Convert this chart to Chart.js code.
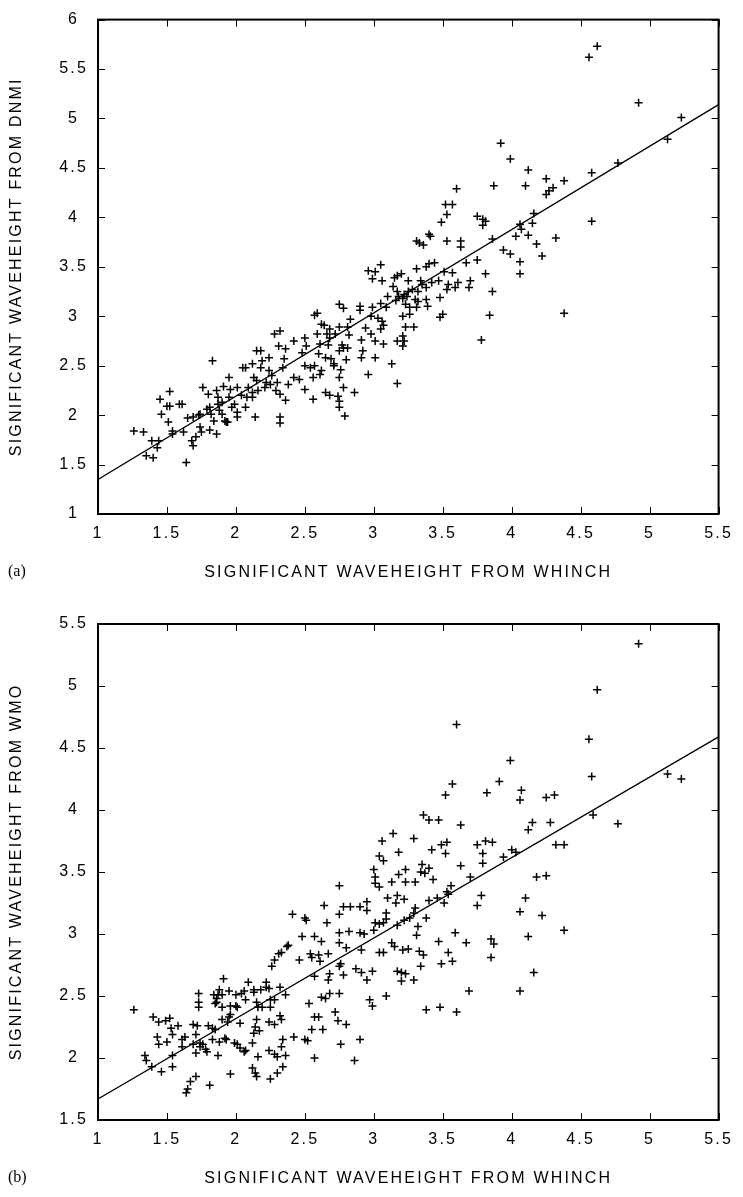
<!DOCTYPE html>
<html>
<head>
<meta charset="utf-8">
<title>Significant waveheight comparison</title>
<script src="https://cdn.jsdelivr.net/npm/chart.js@4.4.1/dist/chart.umd.min.js"></script>
<style>
  body { margin: 0; background: #fff; }
  canvas { display: block; }
</style>
</head>
<body>
<canvas id="panelA" width="743" height="600"></canvas>
<canvas id="panelB" width="743" height="597"></canvas>
<script>
// axis ticks and titles
const xTicks = [1, 1.5, 2, 2.5, 3, 3.5, 4, 4.5, 5, 5.5];
const yTicksA = [1, 1.5, 2, 2.5, 3, 3.5, 4, 4.5, 5, 5.5, 6];
const yTicksB = [1.5, 2, 2.5, 3, 3.5, 4, 4.5, 5, 5.5];
const xTitle = 'SIGNIFICANT WAVEHEIGHT FROM WHINCH';
const yTitleA = 'SIGNIFICANT WAVEHEIGHT FROM DNMI';
const yTitleB = 'SIGNIFICANT WAVEHEIGHT FROM WMO';

// (a) WHINCH vs DNMI, [whinch, dnmi]
const dnmiPoints = [
  [1.26,1.84],[1.33,1.83],[1.35,1.59],[1.40,1.57],[1.39,1.74],[1.44,1.74],[1.43,1.67],[1.45,2.16],
  [1.52,2.24],[1.50,2.09],[1.52,2.09],[1.59,2.11],[1.61,2.11],[1.46,2.01],[1.51,1.93],[1.54,1.84],
  [1.54,1.81],[1.62,1.83],[1.64,1.52],[1.65,1.97],[1.68,1.74],[1.69,1.69],[1.71,1.78],[1.69,1.98],
  [1.73,2.00],[1.74,2.01],[1.74,1.88],[1.75,1.83],[1.76,2.28],[1.80,2.21],[1.79,2.06],[1.81,2.08],
  [1.82,2.01],[1.81,1.85],[1.83,2.55],[1.86,1.81],[1.84,1.94],[1.86,2.25],[1.87,2.18],[1.87,2.11],
  [1.88,2.05],[1.90,2.13],[1.90,2.01],[1.91,2.29],[1.92,1.94],[1.93,1.93],[1.94,1.93],[1.95,2.38],
  [1.96,2.26],[1.95,2.18],[1.97,2.08],[1.99,2.11],[2.01,2.28],[2.01,2.03],[2.01,1.98],[2.04,2.20],
  [2.05,2.48],[2.07,2.48],[2.07,2.08],[2.08,2.18],[2.09,2.28],[2.12,2.52],[2.12,2.23],[2.12,2.18],
  [2.13,2.38],[2.14,1.98],[2.15,2.35],[2.15,2.65],[2.16,2.25],[2.18,2.65],[2.18,2.48],[2.19,2.55],
  [2.21,2.28],[2.22,2.33],[2.24,2.58],[2.24,2.45],[2.25,2.31],[2.26,2.40],[2.28,2.82],[2.29,2.25],
  [2.30,2.33],[2.32,2.85],[2.31,2.70],[2.32,2.21],[2.32,1.98],[2.32,1.92],[2.34,2.48],[2.35,2.57],
  [2.36,2.67],[2.36,2.15],[2.38,2.31],[2.42,2.75],[2.42,2.38],[2.46,2.36],[2.48,2.63],[2.50,2.26],
  [2.50,2.78],[2.51,2.70],[2.50,2.50],[2.54,2.48],
  [3.60,4.29],[3.87,4.32],[3.52,4.13],[3.57,4.13],[3.53,4.03],[3.49,3.95],[3.75,4.01],[3.79,3.98],
  [3.81,3.96],[3.79,3.92],[3.40,3.83],[3.41,3.81],[3.31,3.76],[3.33,3.74],[3.36,3.72],[3.53,3.76],
  [3.63,3.76],[3.63,3.70],[3.86,3.78],[3.94,3.67],[3.99,3.63],[3.05,3.52],[2.96,3.46],[3.01,3.45],
  [2.99,3.38],[3.06,3.36],[3.31,3.48],[3.38,3.50],[3.40,3.53],[3.44,3.54],[3.67,3.54],[3.75,3.57],
  [3.81,3.43],[3.57,3.44],[3.51,3.45],[3.15,3.39],[3.20,3.43],[3.17,3.41],[3.25,3.36],[3.34,3.36],
  [3.35,3.32],[3.42,3.34],[3.47,3.36],[3.54,3.32],[3.61,3.34],[3.70,3.36],[3.69,3.29],[3.59,3.29],
  [3.53,3.27],[3.14,3.30],[3.17,3.25],[3.10,3.20],[3.18,3.20],[3.22,3.22],[3.25,3.25],[3.28,3.27],
  [3.32,3.25],[3.38,3.29],[3.16,3.16],[3.21,3.18],[3.24,3.20],[3.30,3.17],[3.32,3.15],[3.38,3.17],
  [3.48,3.19],[3.86,3.25],[3.05,3.13],[3.09,3.09],[3.23,3.12],[3.26,3.09],[3.31,3.09],[3.39,3.10],
  [2.99,3.09],[2.90,3.06],[2.90,3.10],[2.75,3.12],[2.78,3.08],[2.59,3.03],[2.57,3.01],[2.62,2.92],
  [2.64,2.91],[2.68,2.87],[2.75,2.89],[2.81,2.89],[2.83,2.97],[2.94,2.88],[2.98,3.00],[3.03,2.98],
  [3.06,2.95],[3.07,2.91],[3.05,2.87],[3.21,3.00],[3.26,3.02],[3.23,2.89],[3.29,2.89],[3.48,2.99],
  [3.50,3.02],[3.84,3.01],[2.59,2.82],[2.66,2.82],[2.68,2.78],[2.72,2.82],[2.82,2.81],[2.91,2.76],
  [2.98,2.82],[3.01,2.75],[3.07,2.72],[3.17,2.75],[3.21,2.80],[3.22,2.75],[3.21,2.70],[3.78,2.76],
  [2.61,2.72],[2.67,2.71],[2.77,2.71],[2.78,2.68],[2.60,2.62],[2.65,2.58],[2.69,2.57],[2.75,2.65],
  [2.81,2.68],[2.92,2.65],[2.91,2.58],[2.80,2.56],[3.01,2.58],[3.13,2.52],[2.57,2.50],[2.62,2.45],
  [2.71,2.52],[2.71,2.50],[2.76,2.46],[2.96,2.41],[3.17,2.32],[2.56,2.38],[2.61,2.41],[2.75,2.38],
  [2.78,2.28],[2.86,2.23],[2.65,2.23],[2.68,2.20],[2.74,2.19],[2.56,2.16],[2.75,2.14],[2.75,2.08],
  [2.79,1.99],
  [4.62,5.73],[4.56,5.62],[4.92,5.16],[5.23,5.01],[5.13,4.79],[3.92,4.75],[3.99,4.59],[4.12,4.48],
  [4.77,4.55],[4.58,4.45],[4.25,4.39],[4.38,4.37],[4.10,4.32],[4.30,4.30],[4.27,4.27],[4.25,4.23],
  [4.16,4.04],[4.06,3.93],[4.07,3.88],[4.15,3.94],[4.03,3.81],[4.12,3.82],[4.32,3.79],[4.58,3.96],
  [4.18,3.73],[4.22,3.61],[4.06,3.55],[4.06,3.43],[4.38,3.03]
];

// (b) WHINCH vs WMO, [whinch, wmo]
const wmoPoints = [
  [1.26,2.39],[1.34,2.02],[1.35,1.98],[1.39,1.93],[1.46,1.89],[1.40,2.33],[1.44,2.29],[1.49,2.30],
  [1.52,2.32],[1.53,2.24],[1.58,2.26],[1.54,2.19],[1.43,2.17],[1.44,2.11],[1.50,2.13],[1.54,2.02],
  [1.54,1.93],[1.61,2.15],[1.63,2.17],[1.61,2.09],[1.69,2.27],[1.72,2.26],[1.71,2.19],[1.69,2.11],
  [1.71,2.04],[1.74,2.12],[1.74,2.09],[1.76,2.11],[1.78,2.07],[1.80,2.26],[1.83,2.24],[1.85,2.23],
  [1.79,2.05],[1.87,2.02],[1.83,2.15],[1.88,2.13],[1.92,2.16],[1.93,2.15],[1.90,2.31],[1.94,2.29],
  [1.95,2.33],[1.96,2.35],[1.90,2.41],[1.91,2.64],[1.73,2.52],[1.73,2.45],[1.73,2.41],[1.84,2.51],
  [1.86,2.48],[1.86,2.45],[1.87,2.51],[1.88,2.55],[1.90,2.51],[1.85,2.44],[1.95,2.54],[1.96,2.42],
  [2.00,2.51],[2.00,2.42],[2.01,2.41],[2.04,2.52],[2.06,2.54],[2.07,2.47],[2.09,2.61],[2.13,2.55],
  [2.13,2.53],[2.18,2.55],[2.15,2.45],[2.16,2.41],[2.19,2.41],[2.22,2.61],[2.22,2.57],[2.24,2.56],
  [2.25,2.41],[2.25,2.47],[2.28,2.47],[2.32,2.57],[2.36,2.51],[2.03,2.28],[2.15,2.31],[2.14,2.25],
  [2.17,2.22],[2.13,2.20],[2.12,2.12],[2.07,2.06],[2.06,2.05],[2.01,2.11],[2.03,2.08],[1.99,2.12],
  [2.24,2.29],[2.28,2.27],[2.32,2.34],[2.33,2.31],[2.34,2.15],[2.33,2.09],[2.42,2.17],[2.50,2.15],
  [2.52,2.14],[2.16,2.01],[2.24,2.06],[2.28,2.03],[2.30,2.01],[2.36,2.02],[2.30,1.88],[2.34,1.93],
  [2.12,1.92],[2.14,1.88],[2.15,1.85],[2.25,1.83],[1.96,1.87],[1.65,1.75],[1.64,1.72],[1.67,1.81],
  [1.71,1.85],[1.81,1.78],[2.26,2.74],[2.28,2.79],[2.31,2.84],[2.33,2.85],[2.37,2.90],[2.38,2.91],
  [2.41,3.16],[2.50,3.13],[2.51,3.11],[2.48,2.98],[2.57,2.98],[2.62,2.94],[2.64,3.23],[2.66,3.09],
  [2.46,2.79],[2.54,2.84],[2.55,2.81],[2.60,2.83],[2.61,2.78],[2.67,2.84],[2.57,2.66],[2.62,2.49],
  [2.65,2.48],[2.67,2.63],[2.68,2.68],[2.53,2.44],[2.57,2.33],[2.60,2.33],[2.55,2.23],[2.63,2.23],
  [2.57,2.00],[2.68,2.52],
  [3.57,4.21],[3.52,4.12],[3.91,4.23],[3.82,4.14],[4.07,4.16],[4.06,4.08],[3.36,3.96],[3.40,3.92],
  [3.47,3.92],[3.63,3.88],[4.15,3.90],[4.12,3.84],[3.14,3.81],[3.06,3.75],[3.29,3.77],[3.18,3.66],
  [3.42,3.68],[3.49,3.72],[3.53,3.74],[3.52,3.65],[3.75,3.72],[3.81,3.75],[3.86,3.74],[3.79,3.65],
  [4.00,3.68],[4.03,3.66],[3.94,3.62],[3.04,3.63],[3.07,3.59],[3.79,3.57],[3.63,3.55],[3.35,3.56],
  [3.40,3.53],[3.34,3.50],[3.37,3.49],[3.23,3.52],[3.18,3.48],[3.00,3.52],[3.01,3.46],[3.01,3.41],
  [3.04,3.38],[3.13,3.42],[3.23,3.42],[3.30,3.42],[3.43,3.44],[3.70,3.46],[2.75,3.39],[3.56,3.39],
  [3.53,3.34],[3.54,3.32],[3.46,3.29],[3.51,3.25],[3.40,3.27],[3.78,3.31],[3.75,3.23],[4.10,3.29],
  [4.06,3.18],[3.10,3.29],[3.17,3.31],[3.16,3.25],[3.22,3.28],[2.95,3.26],[2.95,3.19],[2.90,3.22],
  [2.83,3.22],[2.78,3.22],[2.75,3.16],[3.30,3.21],[3.29,3.17],[3.26,3.13],[3.22,3.11],[3.09,3.17],
  [3.09,3.12],[3.07,3.09],[3.04,3.08],[3.01,3.09],[3.00,3.03],[2.93,3.00],[2.90,3.01],[2.82,3.02],
  [2.75,3.01],[3.17,3.07],[3.38,3.13],[3.32,3.06],[3.31,2.99],[3.59,3.01],[3.47,2.94],[3.67,2.93],
  [3.85,2.96],[3.87,2.92],[4.12,2.98],[2.75,2.93],[2.80,2.89],[2.91,2.87],[3.04,2.85],[3.07,2.85],
  [3.13,2.93],[3.15,2.90],[3.21,2.87],[3.25,2.88],[3.33,2.86],[3.36,2.83],[3.54,2.85],[3.57,2.78],
  [3.49,2.76],[3.34,2.74],[3.85,2.81],[2.76,2.76],[2.75,2.74],[2.78,2.67],[2.87,2.72],[2.91,2.69],
  [2.99,2.70],[2.95,2.63],[3.17,2.70],[3.20,2.69],[3.23,2.68],[3.20,2.62],[3.29,2.63],[3.09,2.50],
  [2.97,2.47],[2.99,2.42],[2.75,2.52],[2.72,2.37],[2.74,2.30],[2.80,2.27],[2.76,2.11],[2.90,2.15],
  [2.86,1.98],[3.38,2.39],[3.48,2.41],[3.60,2.37],[3.69,2.54],[4.06,2.54],[4.16,2.69],
  [4.92,5.34],[4.62,4.97],[4.56,4.57],[3.99,4.40],[4.58,4.27],[5.13,4.29],[5.23,4.25],[4.25,4.10],
  [4.31,4.12],[4.59,3.96],[4.77,3.89],[4.28,3.90],[4.32,3.72],[4.38,3.72],[4.18,3.46],[4.25,3.47],
  [4.22,3.15],[4.38,3.03],[3.60,4.69]
];

// fitted regression lines, end points
const fitA = [[1, 1.35], [5.5, 5.14]];
const fitB = [[1, 1.67], [5.5, 4.59]];

const FONT = "'Liberation Sans', Arial, Helvetica, sans-serif";
const SPACING = '2.2px';

// the original lettering is wider than Arial, so space it out a little
const letterSpacing = {
  id: 'letterSpacing',
  beforeLayout(chart) { chart.ctx.letterSpacing = SPACING; },
  beforeDraw(chart) { chart.ctx.letterSpacing = SPACING; }
};

// gnuplot style box with inward ticks on all four sides, plus panel tag
const frame = {
  id: 'frame',
  afterDraw(chart, args, opts) {
    const { ctx, chartArea: a, scales: { x, y } } = chart;
    ctx.save();
    ctx.strokeStyle = '#000';
    ctx.lineWidth = 1;
    ctx.beginPath();
    x.ticks.forEach(t => {
      const px = Math.round(x.getPixelForValue(t.value)) + 0.5;
      ctx.moveTo(px, a.bottom); ctx.lineTo(px, a.bottom - 7);
      ctx.moveTo(px, a.top); ctx.lineTo(px, a.top + 7);
    });
    y.ticks.forEach(t => {
      const py = Math.round(y.getPixelForValue(t.value)) + 0.5;
      ctx.moveTo(a.left, py); ctx.lineTo(a.left + 7, py);
      ctx.moveTo(a.right, py); ctx.lineTo(a.right - 7, py);
    });
    ctx.stroke();
    ctx.lineWidth = 2;
    ctx.strokeRect(a.left, a.top, a.right - a.left, a.bottom - a.top);

    ctx.letterSpacing = '0px';
    ctx.fillStyle = '#000';
    ctx.font = "16px 'Liberation Serif', 'Times New Roman', serif";
    ctx.textBaseline = 'middle';
    ctx.textAlign = 'left';
    ctx.fillText(opts.tag, 8, x.bottom - 10);
    ctx.restore();
  }
};

function makePanel(id, points, fit, yTicks, yTitle, tag, padTop, padBottom) {
  const font = { family: FONT, size: 16 };
  return new Chart(document.getElementById(id), {
    type: 'scatter',
    data: {
      datasets: [
        {
          data: points,
          pointStyle: 'cross',
          pointRadius: 4,
          borderColor: '#000',
          borderWidth: 1.5
        },
        {
          type: 'line',
          data: fit,
          borderColor: '#000',
          borderWidth: 1.3,
          pointRadius: 0,
          fill: false
        }
      ]
    },
    options: {
      responsive: false,
      animation: false,
      events: [],
      devicePixelRatio: 1,
      layout: { padding: { left: 0, right: 15, top: padTop, bottom: padBottom } },
      plugins: {
        legend: { display: false },
        tooltip: { enabled: false },
        frame: { tag: tag }
      },
      scales: {
        x: {
          type: 'linear',
          min: 1,
          max: 5.5,
          afterBuildTicks: s => { s.ticks = xTicks.map(v => ({ value: v })); },
          afterFit: s => { s.height = 68; },
          grid: { display: false, drawTicks: false },
          border: { display: false },
          ticks: { color: '#000', font: font, padding: 10, autoSkip: false, maxRotation: 0, callback: v => String(v) },
          title: { display: true, text: xTitle, color: '#000', font: font, padding: 0 }
        },
        y: {
          type: 'linear',
          min: yTicks[0],
          max: yTicks[yTicks.length - 1],
          afterBuildTicks: s => { s.ticks = yTicks.map(v => ({ value: v })); },
          afterFit: s => { s.width = 98; },
          grid: { display: false, drawTicks: false },
          border: { display: false },
          ticks: { color: '#000', font: font, padding: 10, autoSkip: false, crossAlign: 'center', callback: v => String(v) },
          title: { display: true, text: yTitle, color: '#000', font: font, padding: { top: 7, bottom: 0 } }
        }
      }
    },
    plugins: [letterSpacing, frame]
  });
}

makePanel('panelA', dnmiPoints, fitA, yTicksA, yTitleA, '(a)', 17, 18);
makePanel('panelB', wmoPoints, fitB, yTicksB, yTitleB, '(b)', 24, 9);
</script>
</body>
</html>
